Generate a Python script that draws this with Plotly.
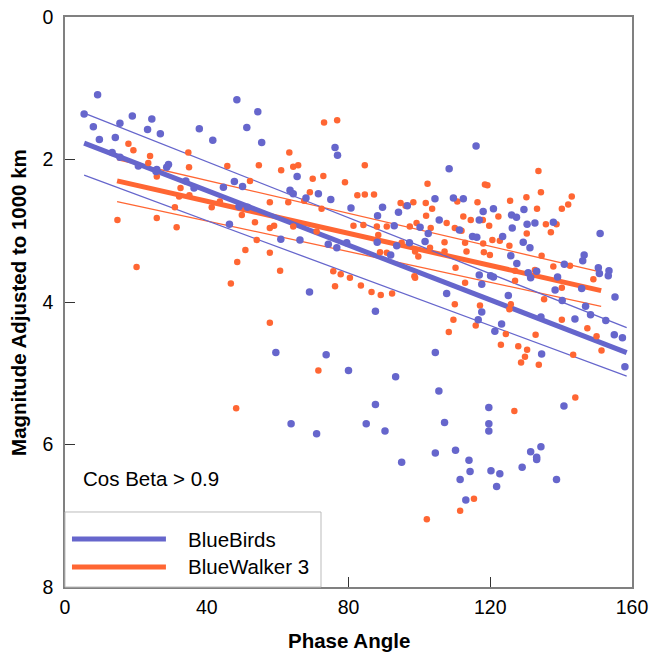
import plotly.graph_objects as go

# BlueBirds observations (phase angle in degrees, magnitude adjusted to 1000 km)
bb_phase = [9.2, 5.4, 8.0, 15.5, 19.0, 24.5, 23.3, 26.9, 9.7, 14.2, 37.9, 41.7, 48.5, 54.4, 51.3,
            13.3, 15.5, 20.7, 25.9, 28.7, 29.2, 25.7, 34.1, 36.4, 44.7, 47.8, 50.1, 49.1, 51.5, 46.4,
            55.5, 76.2, 76.9, 65.5, 63.5, 64.4, 68.0, 71.5, 75.0, 80.7, 89.6, 88.2, 94.1, 96.6, 104.4,
            108.4, 92.9, 100.2, 102.5, 105.6, 60.9, 66.3, 74.3, 76.7, 79.5, 88.1, 93.6, 97.2, 101.6, 91.9,
            69.0, 87.6, 59.5, 73.7, 80.0, 93.3, 104.5, 105.5, 87.6, 63.8, 71.0, 85.0, 90.3, 107.1, 104.5,
            95.0, 107.7, 114.3, 114.0, 111.5, 120.2, 122.7, 121.8, 129.0, 133.1, 138.7, 113.1, 125.1, 138.3, 140.3,
            145.8, 155.2, 117.6, 116.6, 121.3, 123.2, 134.3, 146.9, 148.3, 143.9, 152.6, 155.0, 157.3, 158.0, 134.5,
            119.6, 140.8, 119.6, 119.6, 110.2, 131.4, 133.1, 134.3, 116.0, 109.6, 112.4, 118.0, 120.9, 129.5, 116.9,
            126.0, 127.4, 126.2, 130.4, 132.6, 137.8, 111.3, 115.0, 116.2, 123.5, 129.3, 131.2, 125.8, 127.5, 146.5,
            146.1, 140.9, 151.0, 150.5, 150.8, 153.5, 153.3, 116.9, 120.1, 120.9, 130.7, 133.1, 131.4, 139.0, 117.6]
bb_mag = [1.09, 1.36, 1.54, 1.49, 1.39, 1.43, 1.58, 1.64, 1.72, 1.69, 1.57, 1.73, 1.16, 1.33, 1.55,
          1.90, 1.97, 2.09, 2.14, 2.11, 2.07, 2.17, 2.30, 2.40, 2.39, 2.31, 2.38, 2.66, 2.67, 2.91,
          1.76, 1.83, 1.94, 2.24, 2.43, 2.48, 2.54, 2.48, 2.56, 2.68, 2.67, 2.79, 2.74, 2.65, 2.55,
          2.13, 2.93, 2.95, 3.04, 2.85, 3.12, 3.13, 3.19, 3.24, 3.17, 3.16, 3.21, 3.17, 3.15, 3.34,
          3.86, 4.13, 4.71, 4.74, 4.96, 5.05, 4.71, 5.25, 5.44, 5.71, 5.85, 5.71, 5.81, 5.69, 6.12,
          6.25, 3.88, 6.38, 6.22, 6.49, 6.37, 6.41, 6.59, 6.32, 6.21, 6.49, 6.78, 3.91, 3.83, 3.98,
          3.81, 3.93, 4.14, 4.25, 4.41, 4.31, 4.21, 4.06, 4.18, 4.24, 4.26, 4.46, 4.50, 4.91, 4.73,
          5.48, 5.46, 5.71, 5.81, 6.08, 6.10, 6.18, 6.03, 1.81, 2.54, 2.55, 2.73, 2.69, 2.70, 2.85,
          2.78, 2.81, 2.96, 2.91, 2.89, 2.88, 2.99, 3.08, 3.09, 3.08, 3.16, 3.24, 3.35, 3.46, 3.34,
          3.42, 3.47, 3.04, 3.52, 3.60, 3.56, 3.63, 3.62, 3.63, 3.65, 3.59, 3.57, 3.66, 3.65, 3.75]

# BlueWalker 3 observations
bw_phase = [17.9, 19.3, 24.0, 23.5, 34.8, 35.0, 25.9, 45.8, 54.7, 52.2, 32.6, 32.2, 35.1, 31.0, 41.4,
            43.7, 49.9, 53.6, 14.8, 25.9, 31.5, 54.1, 50.9, 48.6, 20.2, 46.8, 48.3,
            73.1, 76.8, 63.3, 61.0, 64.4, 65.8, 84.6, 69.9, 72.9, 79.0, 69.1, 82.5, 84.6, 87.2, 72.4,
            67.5, 94.7, 98.3, 102.3, 101.8, 103.6, 101.9, 96.1, 57.8, 63.0, 57.8, 59.0, 64.4, 81.4, 84.2,
            88.0, 90.8, 97.3, 99.2, 103.2, 57.8, 75.7, 77.8, 60.7, 71.0, 88.4, 90.8, 95.0, 98.8, 103.0,
            99.7, 98.6, 88.9, 80.4, 76.2, 83.5, 86.5, 89.1, 92.3, 98.8, 57.8, 71.5, 108.3,
            115.4, 111.5, 102.1,
            112.9, 127.0, 149.1, 140.2, 135.2, 110.0, 117.1, 125.8, 125.4, 109.6, 115.9, 124.4, 132.8, 140.2,
            147.4, 150.0, 151.4, 123.0, 127.9, 130.4, 129.8, 128.7, 133.7, 143.4, 144.0, 126.8,
            133.6, 118.5, 119.2, 134.3, 143.0, 142.0, 140.2, 125.6, 130.2, 116.4, 110.7, 133.2, 112.4, 114.5,
            122.3, 117.9, 119.7, 135.7, 138.7, 130.3, 107.7, 110.0, 111.9, 112.9, 107.1, 118.0, 120.6, 122.7,
            125.4, 113.3, 107.1, 118.2, 119.9, 134.5, 137.8, 142.5, 110.2, 127.0, 137.1, 132.6]
bw_mag = [1.78, 1.87, 1.95, 2.05, 1.90, 2.11, 2.24, 2.09, 2.08, 2.30, 2.40, 2.52, 2.50, 2.67, 2.67,
          2.59, 2.78, 2.88, 2.85, 2.82, 2.95, 3.13, 3.27, 3.44, 3.51, 3.74, 5.49,
          1.48, 1.45, 1.90, 2.15, 2.10, 2.08, 2.08, 2.27, 2.23, 2.32, 2.46, 2.50, 2.49, 2.49, 2.69,
          2.58, 2.61, 2.60, 2.34, 2.61, 2.69, 2.79, 2.65, 2.60, 2.60, 2.96, 2.93, 2.94, 2.93, 2.92,
          2.94, 2.94, 2.94, 2.89, 2.96, 3.31, 3.57, 3.61, 3.56, 3.01, 3.06, 3.31, 3.17, 3.29, 3.24,
          3.36, 3.64, 3.30, 3.66, 3.78, 3.77, 3.86, 3.90, 3.88, 3.66, 4.29, 4.96, 4.42,
          6.76, 6.93, 7.05,
          3.73, 3.70, 3.68, 3.80, 3.96, 4.03, 4.05, 4.03, 4.10, 4.25, 4.33, 4.45, 4.46, 4.25,
          4.37, 4.48, 4.68, 4.60, 4.62, 4.67, 4.77, 4.85, 4.88, 4.74, 5.34, 5.53,
          2.16, 2.35, 2.36, 2.46, 2.52, 2.63, 2.69, 2.58, 2.53, 2.60, 2.59, 2.69, 2.80, 2.85,
          2.80, 2.85, 2.93, 2.91, 2.91, 3.04, 2.89, 2.96, 3.00, 3.17, 3.16, 3.18, 3.13, 3.14,
          3.21, 3.29, 3.29, 3.30, 3.34, 3.35, 3.50, 3.49, 3.52, 3.56, 3.02, 3.55]

# Linear fits with their interval bounds (endpoints)
bb_fit_x = [5.4, 158.5]
bb_fit = [1.77, 4.71]
bb_upper = [1.35, 4.36]
bb_lower = [2.22, 5.04]

bw_fit_x = [14.7, 151.3]
bw_fit = [2.30, 3.84]
bw_upper = [2.00, 3.58]
bw_lower = [2.59, 4.06]

BLUE = "#6666cc"
ORANGE = "#ff6633"
FONT = "Arial, Liberation Sans, sans-serif"
TXT = 20.5

fig = go.Figure()

# interval and fit lines
for xs, ys, col, w in [
    (bw_fit_x, bw_upper, ORANGE, 1.3), (bw_fit_x, bw_lower, ORANGE, 1.3), (bw_fit_x, bw_fit, ORANGE, 5),
    (bb_fit_x, bb_upper, BLUE, 1.3), (bb_fit_x, bb_lower, BLUE, 1.3), (bb_fit_x, bb_fit, BLUE, 5),
]:
    fig.add_trace(go.Scatter(x=xs, y=ys, mode="lines", line=dict(color=col, width=w),
                             showlegend=False, hoverinfo="skip"))

fig.add_trace(go.Scatter(x=bw_phase, y=bw_mag, mode="markers", name="BlueWalker 3",
                         marker=dict(color=ORANGE, size=6.5), showlegend=False))
fig.add_trace(go.Scatter(x=bb_phase, y=bb_mag, mode="markers", name="BlueBirds",
                         marker=dict(color=BLUE, size=7.5), showlegend=False))

axis_common = dict(
    showline=True, linecolor="#808080", linewidth=1.5, mirror=True,
    ticks="inside", ticklen=10, tickwidth=1, tickcolor="#333333",
    showgrid=False, zeroline=False, automargin=False,
    tickfont=dict(family=FONT, size=19.5, color="black"),
)

fig.update_xaxes(range=[0, 160], tickvals=[0, 40, 80, 120, 160], ticklabelstandoff=2, **axis_common)
fig.update_yaxes(range=[8, 0], tickvals=[0, 2, 4, 6, 8], ticklabelstandoff=6, **axis_common)

# legend box drawn in paper coordinates
shapes = [
    dict(type="rect", xref="paper", yref="paper", x0=0, x1=0.4515, y0=0, y1=0.1316,
         line=dict(color="#bbbbbb", width=1), fillcolor="white", layer="above"),
    dict(type="line", xref="paper", yref="paper", x0=0.0123, x1=0.178, y0=0.0842, y1=0.0842,
         line=dict(color=BLUE, width=5), layer="above"),
    dict(type="line", xref="paper", yref="paper", x0=0.0123, x1=0.178, y0=0.0351, y1=0.0351,
         line=dict(color=ORANGE, width=5), layer="above"),
]
annotations = [
    dict(text="BlueBirds", xref="paper", yref="paper", x=0.2134, y=0.0842, xanchor="left",
         yanchor="middle", showarrow=False, font=dict(family=FONT, size=TXT, color="black")),
    dict(text="BlueWalker 3", xref="paper", yref="paper", x=0.2134, y=0.0351, xanchor="left",
         yanchor="middle", showarrow=False, font=dict(family=FONT, size=TXT, color="black")),
    dict(text="Cos Beta > 0.9", xref="paper", yref="paper", x=0.028, y=0.1895, xanchor="left",
         yanchor="middle", showarrow=False, font=dict(family=FONT, size=TXT, color="black")),
    # axis titles
    dict(text="<b>Phase Angle</b>", xref="paper", yref="paper", x=0.5, y=-0.093,
         xanchor="center", yanchor="middle", showarrow=False,
         font=dict(family=FONT, size=TXT, color="black")),
    dict(text="<b>Magnitude Adjusted to 1000 km</b>", xref="paper", yref="paper", x=-0.083, y=0.5,
         xanchor="center", yanchor="middle", textangle=-90, showarrow=False,
         font=dict(family=FONT, size=TXT, color="black")),
]

fig.update_layout(
    width=654, height=654,
    margin=dict(l=65, r=22, t=17, b=67),
    paper_bgcolor="white", plot_bgcolor="white",
    shapes=shapes, annotations=annotations,
    showlegend=False,
)

fig.write_html("out.html")
